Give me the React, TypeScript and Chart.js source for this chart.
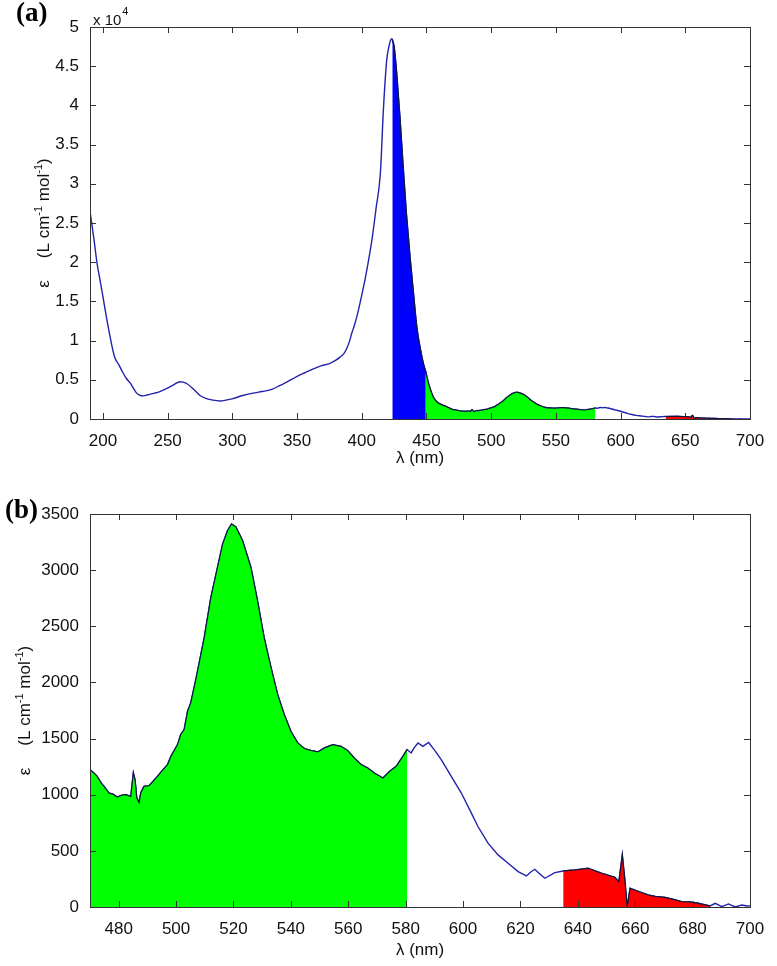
import React, { useEffect, useRef } from 'react';
import { Chart, registerables } from 'chart.js';

Chart.register(...registerables);

// ---------- DATA ----------
// Overview part of the spectrum (190–470 nm), epsilon in L cm^-1 mol^-1
const wlOverview = [
  190, 193, 195.4, 198, 200, 203, 205.5, 209, 212, 215.5, 218, 221, 224, 226, 229, 231, 235, 240, 244,
  249.5, 255, 259.5, 262, 265, 270, 275, 280, 285, 290.5, 295, 300.5, 308, 316, 323, 331, 337, 342, 349.7,
  356, 362.6, 369, 375.5, 380, 383.2, 386, 388.4, 390.5, 392.2, 394, 396.1, 398, 400, 403, 405, 408, 411,
  414.4, 416.7, 419.3, 421, 422, 423.2, 423.6, 425, 427, 429.5, 432, 434.5, 437.3, 440, 442.5, 445,
  447.6, 449.5, 452, 455.3, 458, 462, 465.6, 468,
];
const epsOverview = [
  26500, 23000, 19900, 17500, 15600, 12700, 10500, 7900, 7000, 5900, 5200, 4600, 3800, 3300, 3000, 2950,
  3100, 3300, 3500, 3900, 4400, 4750, 4700, 4500, 3800, 3000, 2600, 2400, 2300, 2400, 2600, 3000, 3300,
  3500, 3800, 4300, 4700, 5400, 5900, 6400, 6800, 7100, 7500, 7900, 8300, 9000, 9900, 10900, 11800,
  13000, 14300, 15800, 18200, 20000, 23000, 26800, 31400, 39400, 45800, 47500, 48200, 48500, 48400,
  47500, 44100, 38500, 32200, 26200, 20700, 16000, 11800, 9200, 7100, 6000, 4300, 2800, 2200, 1800,
  1570, 1380,
];

// Detailed part of the spectrum (470–700 nm), shared by both panels
const wlDetail = [
  470, 471.5, 472.5, 474, 474.9, 476.6, 478, 479.5, 481, 482.5, 484.2, 484.7, 485.1, 485.7, 486.3, 487.1,
  487.7, 488.8, 490.6, 492, 493.5, 495, 497, 498.2, 500.5, 501.6, 502.8, 504, 505.1, 506.9, 509.8, 512.1,
  513.9, 516.2, 517.9, 519.3, 520.8, 523.2, 526.1, 528.4, 530.7, 533.1, 535.4, 537.7, 540, 542.4, 544.7,
  547, 549.4, 551.7, 554.6, 557.5, 559.8, 562.1, 564.5, 566.8, 569.1, 572.1, 574.4, 576.7, 579, 580.5,
  581.9, 583, 584.3, 586, 588, 590, 592.4, 595.9, 599.4, 602.9, 605.2, 608.7, 612.2, 615.7, 619.2, 622.1,
  623.5, 625, 626.5, 628.5, 632, 634.9, 639, 643.6, 648.3, 652.9, 654.3, 655.5, 656.4, 657.2, 658.2, 661,
  664.6, 667, 670.4, 673, 676.2, 679, 682.1, 686.1, 687.9, 690.2, 692.5, 694.8, 697.2, 699, 700,
];
const epsDetail = [
  1223, 1190, 1163, 1100, 1074, 1015, 1005, 979, 995, 1000, 985, 1100, 1194, 1134, 973, 931,
  1018, 1074, 1080, 1120, 1163, 1210, 1268, 1342, 1446, 1536, 1580, 1744, 1818, 2030, 2399, 2756,
  2964, 3232, 3351, 3411, 3387, 3262, 3024, 2726, 2399, 2131, 1893, 1714, 1565, 1461, 1411,
  1395, 1381, 1417, 1446, 1431, 1393, 1327, 1268, 1238, 1193, 1149, 1208, 1253, 1342, 1402,
  1372, 1420, 1461, 1430, 1465, 1400, 1312, 1163, 1015, 836, 717, 569, 464, 390, 315, 277,
  310, 336, 300, 256, 306, 321, 330, 345, 301, 265, 226, 464, 241, 0, 167, 140,
  107, 95, 86, 70, 48, 45, 33, 9, 33, 3, 27, 0, 18, 9, 10,
];

// Shaded wavelength bands
const blueBandA = [423.6, 449.5];
const greenBandA = [449.5, 580.5];
const redBand = [634.9, 686.1];
const greenBandB = [470, 580.5];

// Tick values
const xTicksA = [200, 250, 300, 350, 400, 450, 500, 550, 600, 650, 700];
const yTicksA = [0, 5000, 10000, 15000, 20000, 25000, 30000, 35000, 40000, 45000, 50000];
const xTicksB = [480, 500, 520, 540, 560, 580, 600, 620, 640, 660, 680, 700];
const yTicksB = [0, 500, 1000, 1500, 2000, 2500, 3000, 3500];

// ---------- HELPERS ----------
const FONT = "'Liberation Sans', Arial, Helvetica, sans-serif";
const LINE = '#2222aa';
const EDGE = '#0c1a3c';

type Pt = { x: number; y: number };

const toPoints = (wl: number[], eps: number[]): Pt[] => wl.map((w, i) => ({ x: w, y: eps[i] }));
const band = (pts: Pt[], r: number[]) => pts.filter((p) => p.x >= r[0] && p.x <= r[1]);

function drawYTitle(ctx: CanvasRenderingContext2D, cx: number, cy: number) {
  const big = `17px ${FONT}`;
  const small = `11px ${FONT}`;
  const parts: { t: string; sup?: boolean; gap?: number }[] = [
    { t: 'ε' },
    { t: '', gap: 22 },
    { t: '(L cm' },
    { t: '-1', sup: true },
    { t: ' mol' },
    { t: '-1', sup: true },
    { t: ')' },
  ];
  let total = 0;
  const widths = parts.map((p) => {
    if (p.gap) return p.gap;
    ctx.font = p.sup ? small : big;
    return ctx.measureText(p.t).width;
  });
  widths.forEach((w) => (total += w));
  ctx.save();
  ctx.translate(cx, cy);
  ctx.rotate(-Math.PI / 2);
  ctx.fillStyle = '#111';
  ctx.textBaseline = 'alphabetic';
  ctx.textAlign = 'left';
  let x = -total / 2;
  parts.forEach((p, i) => {
    if (p.t) {
      ctx.font = p.sup ? small : big;
      ctx.fillText(p.t, x, p.sup ? -1 : 6);
    }
    x += widths[i];
  });
  ctx.restore();
}

function decorPlugin(cfg: {
  panel: string;
  panelX: number;
  panelY: number;
  yTitleX: number;
  xTitleY: number;
  exponent?: boolean;
}) {
  return {
    id: 'decor',
    afterDraw(chart: any) {
      const { ctx, chartArea } = chart;
      const { left, top, right, bottom } = chartArea;
      const xs = chart.scales.x;
      const ys = chart.scales.y;
      ctx.save();
      ctx.strokeStyle = '#333';
      ctx.lineWidth = 1;
      ctx.strokeRect(Math.round(left) + 0.5, Math.round(top) + 0.5, Math.round(right - left), Math.round(bottom - top));
      const tl = 6;
      ctx.beginPath();
      xs.ticks.forEach((t: any) => {
        const px = Math.round(xs.getPixelForValue(t.value)) + 0.5;
        ctx.moveTo(px, bottom);
        ctx.lineTo(px, bottom - tl);
        ctx.moveTo(px, top);
        ctx.lineTo(px, top + tl);
      });
      ys.ticks.forEach((t: any) => {
        const py = Math.round(ys.getPixelForValue(t.value)) + 0.5;
        ctx.moveTo(left, py);
        ctx.lineTo(left + tl, py);
        ctx.moveTo(right, py);
        ctx.lineTo(right - tl, py);
      });
      ctx.stroke();

      // panel label
      ctx.fillStyle = '#000';
      ctx.font = `bold 27px 'Liberation Serif', 'Times New Roman', serif`;
      ctx.textAlign = 'left';
      ctx.textBaseline = 'alphabetic';
      ctx.fillText(cfg.panel, cfg.panelX, cfg.panelY);

      // x title
      ctx.fillStyle = '#111';
      ctx.font = `17px ${FONT}`;
      ctx.textAlign = 'center';
      ctx.textBaseline = 'middle';
      ctx.fillText('λ (nm)', (left + right) / 2, cfg.xTitleY);

      // exponent
      if (cfg.exponent) {
        ctx.textAlign = 'left';
        ctx.textBaseline = 'alphabetic';
        ctx.font = `15px ${FONT}`;
        ctx.fillText('x 10', left + 3, top - 2);
        const w = ctx.measureText('x 10').width;
        ctx.font = `11px ${FONT}`;
        ctx.fillText('4', left + 4 + w, top - 12);
      }

      drawYTitle(ctx, cfg.yTitleX, (top + bottom) / 2);
      ctx.restore();
    },
  };
}

function makeChart(
  canvas: HTMLCanvasElement,
  o: {
    datasets: any[];
    xMin: number;
    xMax: number;
    yMax: number;
    xTicks: number[];
    yTicks: number[];
    yFmt: (v: number) => string;
    padTop: number;
    xAxisH: number;
    decor: any;
  }
) {
  return new Chart(canvas, {
    type: 'line',
    data: { datasets: o.datasets },
    options: {
      responsive: false,
      maintainAspectRatio: false,
      animation: false,
      layout: { padding: { left: 0, right: 27, top: o.padTop, bottom: 0 } },
      plugins: { legend: { display: false }, tooltip: { enabled: false } },
      elements: { point: { radius: 0 }, line: { tension: 0 } },
      scales: {
        x: {
          type: 'linear',
          min: o.xMin,
          max: o.xMax,
          grid: { display: false },
          border: { display: false },
          afterFit: (s: any) => {
            s.height = o.xAxisH;
          },
          afterBuildTicks: (s: any) => {
            s.ticks = o.xTicks.map((v) => ({ value: v }));
          },
          ticks: {
            autoSkip: false,
            maxRotation: 0,
            padding: 4,
            color: '#111',
            font: { family: FONT, size: 17 },
            callback: (v: any) => String(v),
          },
        },
        y: {
          type: 'linear',
          min: 0,
          max: o.yMax,
          grid: { display: false },
          border: { display: false },
          afterFit: (s: any) => {
            s.width = 90;
          },
          afterBuildTicks: (s: any) => {
            s.ticks = o.yTicks.map((v) => ({ value: v }));
          },
          ticks: {
            autoSkip: false,
            padding: 3,
            color: '#111',
            font: { family: FONT, size: 17 },
            callback: (v: any) => o.yFmt(Number(v)),
          },
        },
      },
    } as any,
    plugins: [o.decor],
  });
}

export default function App() {
  const refA = useRef<HTMLCanvasElement>(null);
  const refB = useRef<HTMLCanvasElement>(null);

  useEffect(() => {
    const full = [...toPoints(wlOverview, epsOverview), ...toPoints(wlDetail, epsDetail)];
    const detail = toPoints(wlDetail, epsDetail);
    const fillDs = (data: Pt[], color: string, smooth: boolean) => ({
      data,
      fill: 'origin',
      backgroundColor: color,
      borderColor: EDGE,
      borderWidth: 1.2,
      pointRadius: 0,
      cubicInterpolationMode: smooth ? 'monotone' : 'default',
    });
    const lineDs = (data: Pt[], smooth: boolean) => ({
      data,
      fill: false,
      borderColor: LINE,
      borderWidth: 1.4,
      pointRadius: 0,
      cubicInterpolationMode: smooth ? 'monotone' : 'default',
    });

    const chartA = makeChart(refA.current!, {
      datasets: [
        fillDs(band(full, blueBandA), '#0000ff', true),
        fillDs(band(full, greenBandA), '#00ff00', true),
        fillDs(band(full, redBand), '#ff0000', true),
        lineDs(full, true),
      ],
      xMin: 190,
      xMax: 700,
      yMax: 50000,
      xTicks: xTicksA,
      yTicks: yTicksA,
      yFmt: (v) => String(v / 10000),
      padTop: 27,
      xAxisH: 56,
      decor: decorPlugin({ panel: '(a)', panelX: 16, panelY: 21, yTitleX: 43, xTitleY: 458, exponent: true }),
    });

    const chartB = makeChart(refB.current!, {
      datasets: [
        fillDs(band(detail, greenBandB), '#00ff00', false),
        fillDs(band(detail, redBand), '#ff0000', false),
        lineDs(detail, false),
      ],
      xMin: 470,
      xMax: 700,
      yMax: 3500,
      xTicks: xTicksB,
      yTicks: yTicksB,
      yFmt: (v) => String(v),
      padTop: 39,
      xAxisH: 59,
      decor: decorPlugin({ panel: '(b)', panelX: 5, panelY: 43, yTitleX: 24, xTitleY: 475 }),
    });

    return () => {
      chartA.destroy();
      chartB.destroy();
    };
  }, []);

  return (
    <div style={{ position: 'absolute', left: 0, top: 0, width: 777, height: 966, background: '#fff' }}>
      <canvas ref={refA} width={777} height={475} style={{ position: 'absolute', left: 0, top: 0 }} />
      <canvas ref={refB} width={777} height={491} style={{ position: 'absolute', left: 0, top: 475 }} />
    </div>
  );
}
